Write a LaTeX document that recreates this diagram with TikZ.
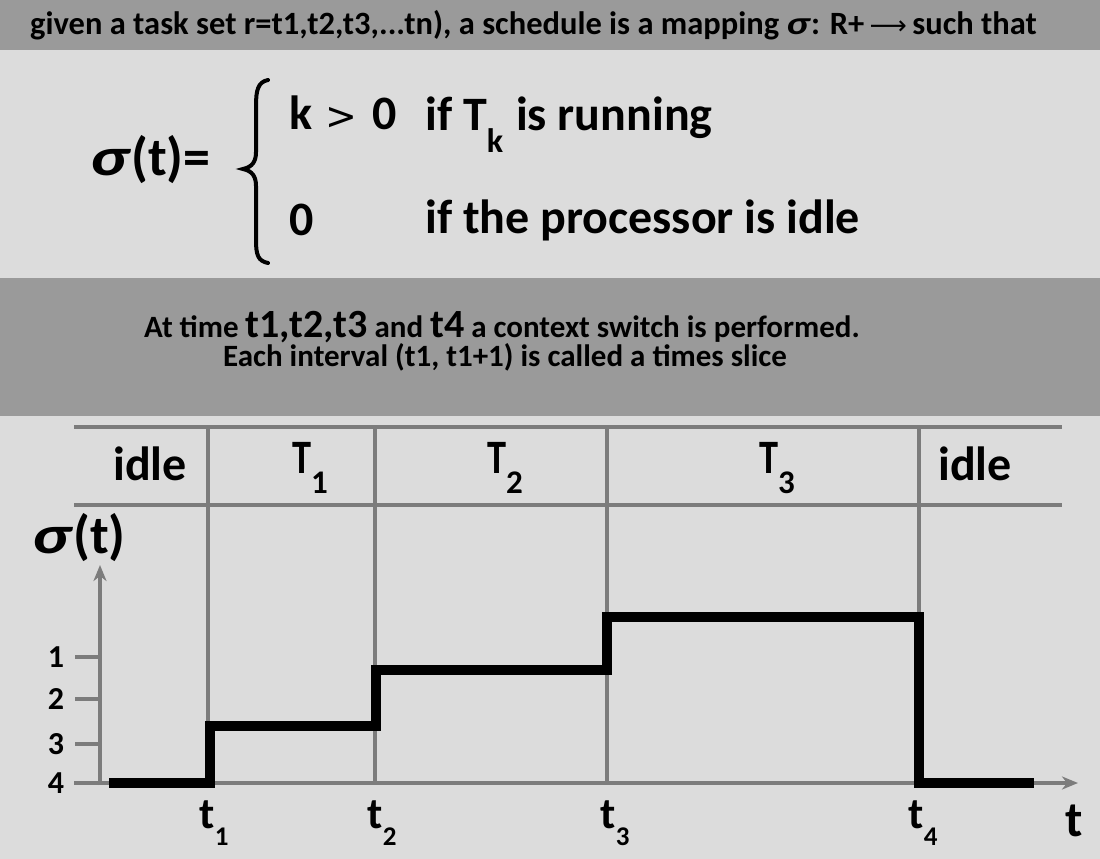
\documentclass[tikz,border=0pt]{standalone}
\usepackage{fontspec}
\setmainfont{Carlito}
\newfontfamily\arrowfont{DejaVu Sans}
\usetikzlibrary{arrows.meta}
\definecolor{banddark}{HTML}{9A9A9A}
\definecolor{bandlight}{HTML}{DCDCDC}
\definecolor{gridgray}{HTML}{7C7C7C}
\newcommand{\fsz}[1]{\fontsize{#1}{#1}\selectfont}
\newcommand{\wsig}{\scalebox{1.3}[1]{\textit{σ}}}
\newcommand{\nT}{\scalebox{0.8}[1]{T}}
\begin{document}
\begin{tikzpicture}[x=1pt,y=-1pt,
  txt/.style={inner sep=0pt, font=\bfseries},
  gridline/.style={draw=gridgray, line width=4pt},
  axisline/.style={draw=gridgray, line width=4pt, -{Stealth[length=16pt,width=13pt,inset=5pt]}},
  tickline/.style={draw=gridgray, line width=4pt},
  stepline/.style={draw=black, line width=10pt, line join=miter},
  bracestyle/.style={draw=black, line width=4pt, line cap=round},
  deftxt/.style={txt, anchor=base west, font=\bfseries\fsz{48}},
  hdr/.style={txt, anchor=base, font=\bfseries\fsz{48}},
  tlab/.style={txt, anchor=base, font=\bfseries\fsz{44}},
  ylab/.style={txt, anchor=center, font=\bfseries\fsz{32}},
]
\useasboundingbox (0,0) rectangle (1100,859);
\fill[bandlight] (0,0) rectangle (1100,859);
\fill[banddark] (0,0) rectangle (1100,50);
\fill[banddark] (0,278) rectangle (1100,416);

% header line
\node[txt, anchor=base west, font=\bfseries\fsz{32.5}] (head) at (30,35)
  {given a task set r=t1,t2,t3,...tn), a schedule is a mapping \wsig: R+\,{\arrowfont\mdseries\fsz{26}⟶}\,such that};

% definition
\node[txt, anchor=base west, font=\bfseries\fsz{54}] (sig) at (90,175) {\wsig(t)=};
\coordinate (brtop) at (268,80);
\coordinate (brtip) at (243,169);
\coordinate (brbot) at (268,263);
\draw[bracestyle] (brtop) .. controls (258,82) and (256,90) .. (256,106) -- (256,152)
  .. controls (256,162) and (252,167) .. (brtip)
  .. controls (252,171) and (256,176) .. (256,186) -- (256,240)
  .. controls (256,255) and (258,261) .. (brbot);
\node[deftxt] (kk) at (289,129) {k};
\node[txt, anchor=base, font=\arrowfont\fsz{38}] (gt) at (341,129) {>};
\node[deftxt] (kz) at (372,129) {0};
\node[deftxt] (run) at (425,130) {if T\raisebox{-22pt}{\fsz{34}k}\hspace{13pt}is running};
\node[deftxt] (zero) at (289,235) {0};
\node[deftxt] (idl) at (425,233) {if the processor is idle};

% context switch text
\node[txt, anchor=base, font=\bfseries\fsz{31}] (ctx) at (502,337)
  {At time {\fsz{40}t1,t2,t3} and {\fsz{40}t4} a context switch is performed.};
\node[txt, anchor=base, font=\bfseries\fsz{31}] (slice) at (505,366)
  {Each interval (t1, t1+1) is called a times slice};

% grid
\coordinate (hl1) at (74,427); \coordinate (hr1) at (1062,427);
\coordinate (hl2) at (74,505); \coordinate (hr2) at (1062,505);
\draw[gridline] (hl1) -- (hr1);
\draw[gridline] (hl2) -- (hr2);
\foreach \nm/\xx in {a/208,b/375,c/607,d/919}{
  \coordinate (v\nm t) at (\xx,427);
  \coordinate (v\nm b) at (\xx,783);
  \draw[gridline] (v\nm t) -- (v\nm b);
}
% axes
\coordinate (xa0) at (74,783); \coordinate (xa1) at (1078,783);
\coordinate (ya0) at (100,785); \coordinate (ya1) at (100,565);
\draw[axisline] (xa0) -- (xa1);
\draw[axisline] (ya0) -- (ya1);
\foreach \lv/\yy in {1/657,2/699,3/744,4/783}{
  \coordinate (tk\lv a) at (75,\yy);
  \coordinate (tk\lv b) at (98,\yy);
  \draw[tickline] (tk\lv a) -- (tk\lv b);
  \node[ylab] (yl\lv) at (56,\yy) {\lv};
}
\node[txt, anchor=base west, font=\bfseries\fsz{54}] (sigt) at (32,553) {\wsig(t)};

% step function
\coordinate (s0) at (109,783);
\coordinate (s1) at (210,783); \coordinate (s2) at (210,726);
\coordinate (s3) at (376,726); \coordinate (s4) at (376,670);
\coordinate (s5) at (607,670); \coordinate (s6) at (607,617);
\coordinate (s7) at (919,617); \coordinate (s8) at (919,783);
\coordinate (s9) at (1034,783);
\draw[stepline] (s0) -- (s1) -- (s2) -- (s3) -- (s4) -- (s5) -- (s6) -- (s7) -- (s8) -- (s9);

% header labels
\node[hdr] (id1) at (150,480) {idle};
\node[hdr] (T1) at (310,473) {\nT\raisebox{-20pt}{\fsz{33}1}};
\node[hdr] (T2) at (505,473) {\nT\raisebox{-20pt}{\fsz{33}2}};
\node[hdr] (T3) at (777,473) {\nT\raisebox{-20pt}{\fsz{33}3}};
\node[hdr] (id2) at (975,480) {idle};

% time labels
\node[tlab] (t1) at (214,828) {t\raisebox{-17pt}{\fsz{27}1}};
\node[tlab] (t2) at (382,828) {t\raisebox{-17pt}{\fsz{27}2}};
\node[tlab] (t3) at (615,828) {t\raisebox{-17pt}{\fsz{27}3}};
\node[tlab] (t4) at (923,828) {t\raisebox{-17pt}{\fsz{27}4}};
\node[txt, anchor=base, font=\bfseries\fsz{50}] (tt) at (1074,836) {t};
\end{tikzpicture}
\end{document}
